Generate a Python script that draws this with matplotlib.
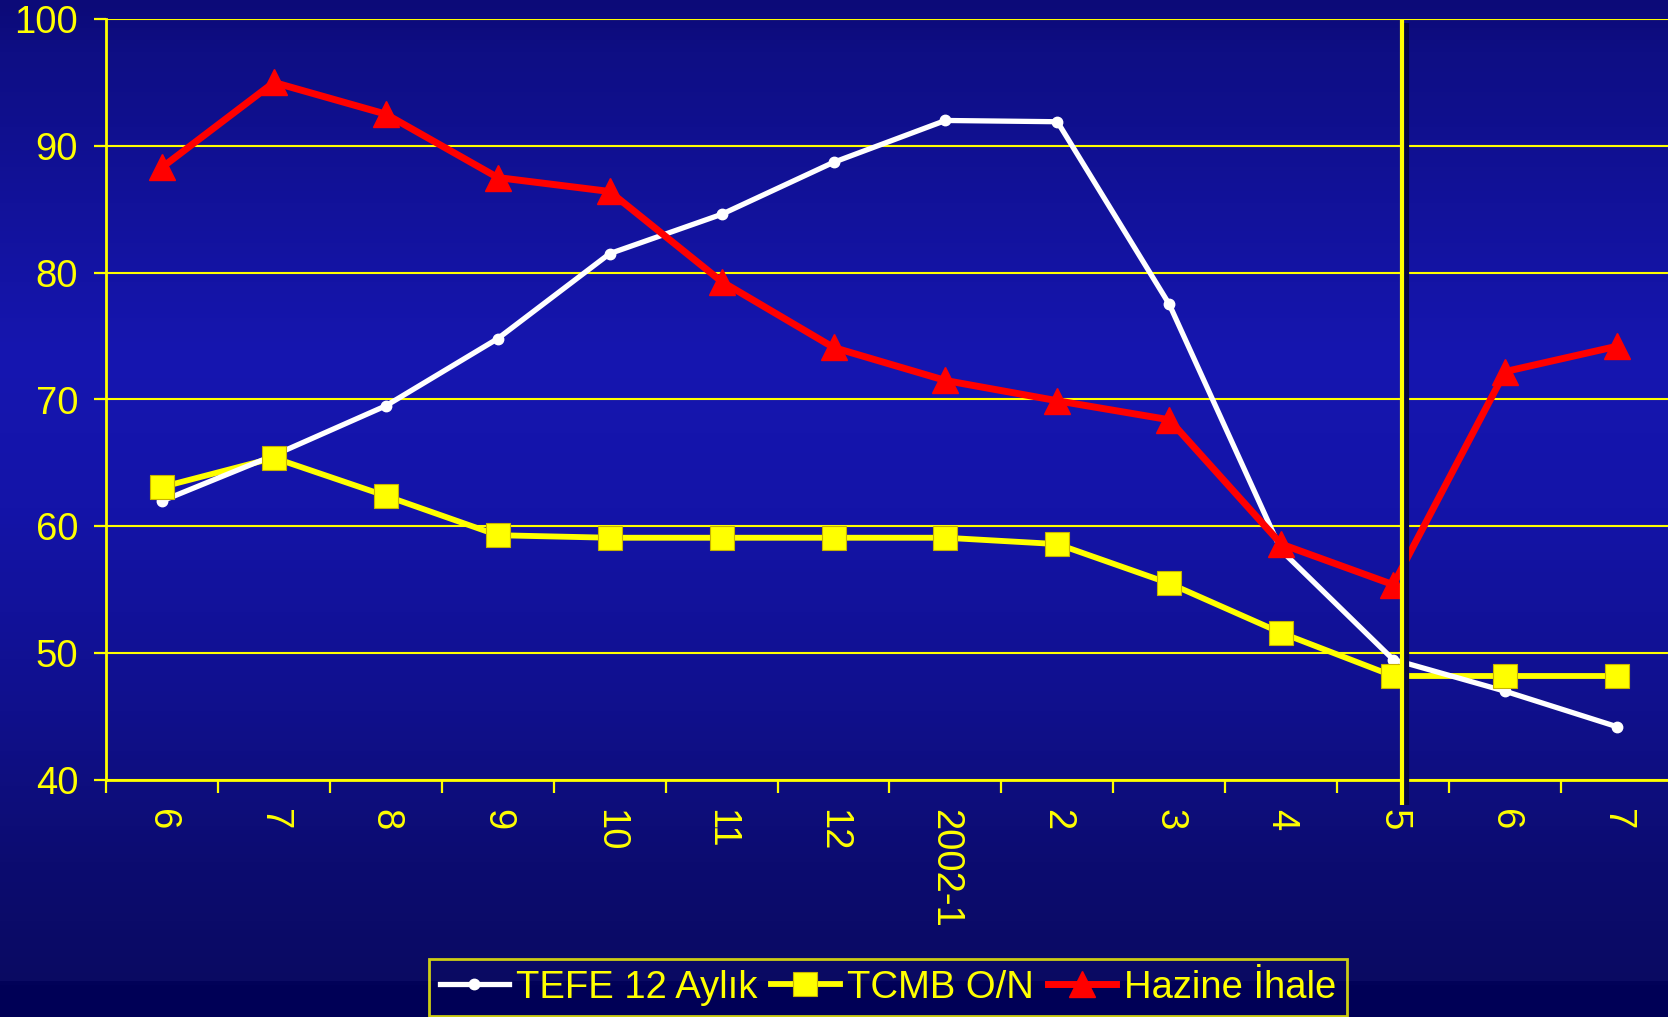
import numpy as np
import matplotlib
matplotlib.use("Agg")
import matplotlib.pyplot as plt
from matplotlib.colors import LinearSegmentedColormap
from matplotlib.lines import Line2D

categories = ["6", "7", "8", "9", "10", "11", "12", "2002-1", "2", "3", "4", "5", "6", "7"]
tefe = [62.0, 65.6, 69.5, 74.8, 81.5, 84.6, 88.7, 92.0, 91.9, 77.5, 58.1, 49.5, 47.0, 44.2]
tcmb = [63.1, 65.4, 62.4, 59.3, 59.1, 59.1, 59.1, 59.1, 58.6, 55.5, 51.6, 48.2, 48.2, 48.2]
hazine = [88.3, 95.0, 92.5, 87.5, 86.4, 79.3, 74.1, 71.5, 69.9, 68.4, 58.6, 55.4, 72.2, 74.2]
series_names = ["TEFE 12 Aylık", "TCMB O/N", "Hazine İhale"]
yticks = [40, 50, 60, 70, 80, 90, 100]

plt.rcParams['font.family'] = ['Liberation Sans', 'DejaVu Sans']
YEL = "#ffff00"

fig = plt.figure(figsize=(16.68, 10.17), dpi=100)

# background gradient
bg = fig.add_axes([0, 0, 1, 1], zorder=-10)
bg.set_axis_off()
stops = [
    (0.0, (12/255, 10/255, 120/255)),
    (0.05, (14/255, 14/255, 132/255)),
    (0.35, (22/255, 22/255, 176/255)),
    (0.5, (20/255, 20/255, 168/255)),
    (0.7, (16/255, 16/255, 140/255)),
    (0.85, (12/255, 12/255, 112/255)),
    (0.967, (10/255, 10/255, 98/255)),
    (0.969, (0/255, 0/255, 86/255)),
    (1.0, (0/255, 0/255, 86/255)),
]
cmap = LinearSegmentedColormap.from_list("bg", stops)
grad = np.linspace(0, 1, 1017).reshape(-1, 1)
bg.imshow(grad, aspect="auto", cmap=cmap, extent=[0, 1, 0, 1], origin="upper")
bg.set_xlim(0, 1)
bg.set_ylim(0, 1)

ax = fig.add_axes([106/1668, 237/1017, 1567/1668, 761/1017])
ax.set_facecolor("none")
x = np.arange(len(categories))

ax.set_xlim(-0.5, len(categories) - 0.5)
ax.set_ylim(40, 100)
ax.set_yticks(yticks)
ax.yaxis.grid(True, color=YEL, linewidth=1.5, zorder=1)
ax.set_axisbelow(True)

for s in ["top", "right"]:
    ax.spines[s].set_visible(False)
for s in ["left", "bottom"]:
    ax.spines[s].set_color(YEL)
    ax.spines[s].set_linewidth(2)

ax.tick_params(axis="y", colors=YEL, labelsize=27.5, length=9, width=1.6, pad=11)
ax.set_xticks(x)
ax.set_xticklabels(categories, rotation=270, ha="center", va="top")
ax.tick_params(axis="x", which="major", colors=YEL, labelsize=27.5, length=0, pad=21)
ax.set_xticks(np.arange(-0.5, len(categories) + 0.5, 1), minor=True)
ax.tick_params(axis="x", which="minor", colors=YEL, length=9, width=1.6)

l_tcmb, = ax.plot(x, tcmb, color=YEL, linewidth=4.2, zorder=3)
l_tefe, = ax.plot(x, tefe, color="white", linewidth=3.8, marker="o", markersize=7.5, zorder=4)
ax.plot(x, tcmb, linestyle="none", marker="s", markersize=17, color=YEL,
        markeredgecolor="#c8b400", markeredgewidth=0.8, zorder=5)
l_haz, = ax.plot(x, hazine, color="#ff0000", linewidth=5, marker="^", markersize=19, zorder=6)

# vertical marker line after 5
ax.plot([11.115, 11.115], [99.7, 38.0], color="#05053f", linewidth=4.5, zorder=7, clip_on=False,
        solid_capstyle="butt")
ax.plot([11.075, 11.075], [100, 38.0], color=YEL, linewidth=3, zorder=8, clip_on=False,
        solid_capstyle="butt")

handles = [
    Line2D([], [], color="white", linewidth=3.8, marker="o", markersize=7.5),
    Line2D([], [], color=YEL, linewidth=4.2, marker="s", markersize=17,
           markeredgecolor="#c8b400", markeredgewidth=0.8),
    Line2D([], [], color="#ff0000", linewidth=5, marker="^", markersize=19),
]
leg = fig.legend(handles, series_names, loc="upper center", bbox_to_anchor=(888/1668, 1 - 959/1017),
                 ncol=3, fontsize=27.5, frameon=True, fancybox=False, handlelength=1.8,
                 handletextpad=0.2, columnspacing=0.35, borderpad=0.28, borderaxespad=0)
leg.get_frame().set_facecolor("none")
leg.get_frame().set_edgecolor(YEL)
leg.get_frame().set_linewidth(2)
for t in leg.get_texts():
    t.set_color(YEL)

fig.savefig("out.png", dpi=100)
